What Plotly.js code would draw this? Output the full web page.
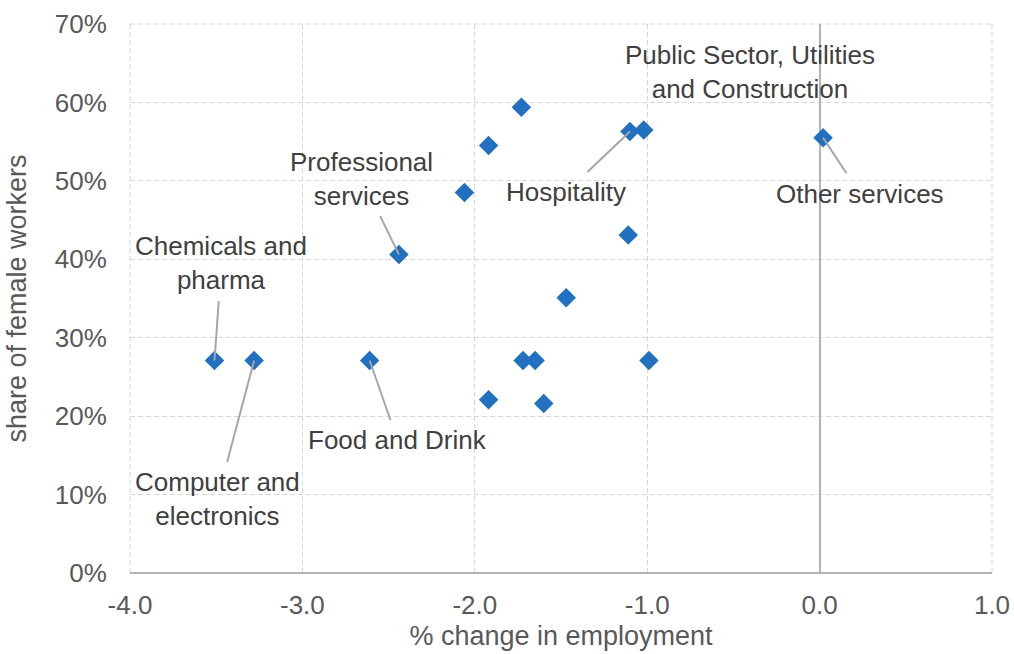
<!DOCTYPE html>
<html>
<head>
<meta charset="utf-8">
<script src="https://cdn.plot.ly/plotly-3.0.1.min.js"></script>
<style>
  html, body { margin: 0; padding: 0; background: #fff; }
  #chart { width: 1014px; height: 654px; }
</style>
</head>
<body>
<div id="chart"></div>
<script>
// % change in employment by sector vs share of female workers
const employmentChange = [-3.51, -3.28, -2.61, -2.44, -2.06, -1.92, -1.92, -1.73, -1.72, -1.65, -1.60, -1.47, -1.11, -1.10, -1.02, -0.99, 0.02];
const femaleShare      = [27.1, 27.1, 27.1, 40.6, 48.5, 54.5, 22.1, 59.4, 27.1, 27.1, 21.6, 35.1, 43.1, 56.3, 56.5, 27.1, 55.5];

// x-axis ticks, written with a plain hyphen
const xTickValues = [-4, -3, -2, -1, 0, 1];
const xTickLabels = ["-4.0", "-3.0", "-2.0", "-1.0", "0.0", "1.0"];

// labelled sectors: index into the series, label text, label offset (px)
const labelIndex = [0, 1, 2, 3, 13, 14, 16];
const labelText = [
  "Chemicals and<br>pharma",
  "Computer and<br>electronics",
  "Food and Drink",
  "Professional<br>services",
  "Hospitality",
  "Public Sector, Utilities<br>and Construction",
  "Other services"
];
const labelOffsetX = [7, -37, 28, -37, -64, 106, 37];
const labelOffsetY = [-97, 139, 80, -76, 61, -58, 56];
const labelArrow   = [true, true, true, true, true, false, true];

const FAMILY = "Liberation Sans, Arial, sans-serif";
const textFont = { family: FAMILY, size: 26, color: "#404040" };
const tickFont = { family: FAMILY, size: 26, color: "#595959" };
const titleFont = { family: FAMILY, size: 27, color: "#595959" };
const GRID = "#d6d6d6";
const GRID_DASH = "5px,3px";

const annotations = labelIndex.map((idx, k) => {
  const a = {
    x: employmentChange[idx],
    y: femaleShare[idx],
    xref: "x", yref: "y",
    text: labelText[k],
    font: textFont,
    align: "center",
    showarrow: labelArrow[k],
    arrowhead: 0,
    arrowwidth: 2,
    arrowcolor: "#a6a6a6",
    borderpad: 5,
    ax: labelOffsetX[k],
    ay: labelOffsetY[k]
  };
  if (!labelArrow[k]) {
    a.xshift = labelOffsetX[k];
    a.yshift = -labelOffsetY[k];
  }
  return a;
});

// dashed frame on the left, top and right edges of the plot area
const frameLine = (x0, y0, x1, y1) => ({
  type: "line", xref: "paper", yref: "paper",
  x0: x0, y0: y0, x1: x1, y1: y1,
  line: { color: GRID, width: 1, dash: GRID_DASH },
  layer: "below"
});

const trace = {
  type: "scatter",
  mode: "markers",
  x: employmentChange,
  y: femaleShare,
  marker: { symbol: "diamond", size: 15, color: "#2270c0" },
  hoverinfo: "x+y",
  cliponaxis: false
};

const layout = {
  width: 1014,
  height: 654,
  margin: { l: 130, r: 22, t: 24, b: 81 },
  paper_bgcolor: "#ffffff",
  plot_bgcolor: "#ffffff",
  showlegend: false,
  xaxis: {
    range: [-4, 1],
    tickmode: "array",
    tickvals: xTickValues,
    ticktext: xTickLabels,
    tickfont: tickFont,
    ticks: "outside",
    ticklen: 9,
    tickcolor: "rgba(0,0,0,0)",
    showgrid: true,
    gridcolor: GRID,
    griddash: GRID_DASH,
    gridwidth: 1,
    zeroline: true,
    zerolinecolor: "#b3b3b3",
    zerolinewidth: 2,
    showline: false,
    title: { text: "% change in employment", font: titleFont, standoff: 6 }
  },
  yaxis: {
    range: [0, 70],
    dtick: 10,
    ticksuffix: "%",
    tickfont: tickFont,
    ticks: "outside",
    ticklen: 17,
    tickcolor: "rgba(0,0,0,0)",
    showgrid: true,
    gridcolor: GRID,
    griddash: GRID_DASH,
    gridwidth: 1,
    zeroline: true,
    zerolinecolor: "#b3b3b3",
    zerolinewidth: 2,
    showline: false,
    title: { text: "share of female workers", font: titleFont, standoff: 20 }
  },
  shapes: [
    frameLine(0, 0, 0, 1),
    frameLine(0, 1, 1, 1),
    frameLine(1, 0, 1, 1)
  ],
  annotations: annotations
};

Plotly.newPlot("chart", [trace], layout, { displayModeBar: false, staticPlot: true });
</script>
</body>
</html>
